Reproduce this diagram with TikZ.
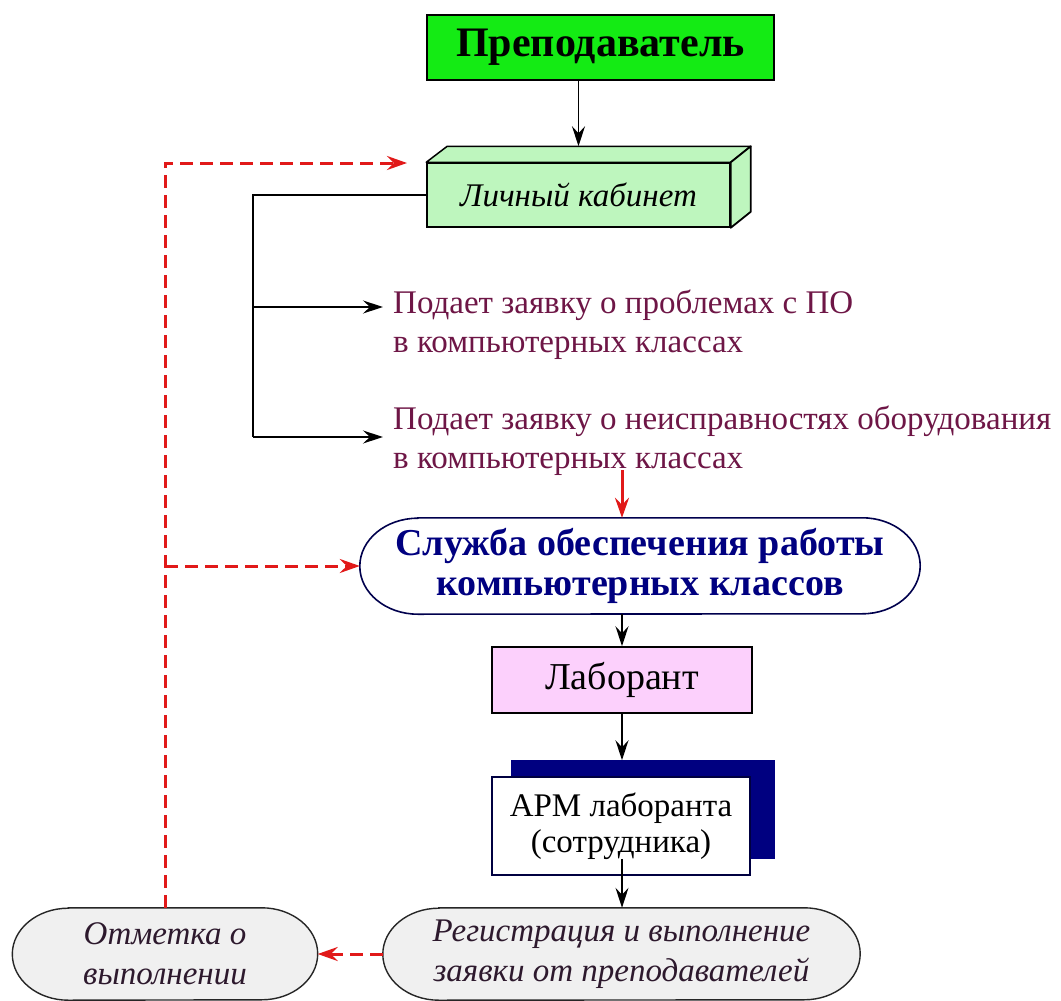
\documentclass[tikz,border=0pt]{standalone}
\usepackage{fontspec}
\setmainfont{Liberation Serif}
\usetikzlibrary{arrows.meta,calc,backgrounds}
\definecolor{prepgreen}{RGB}{20,235,20}
\definecolor{lkgreen}{RGB}{190,246,190}
\definecolor{labpink}{RGB}{252,208,252}
\definecolor{ovalgray}{RGB}{240,240,240}
\definecolor{navyblue}{RGB}{0,0,128}
\definecolor{lblmaroon}{RGB}{110,22,70}
\definecolor{dashred}{RGB}{225,25,25}
\definecolor{ovaltext}{RGB}{45,25,45}
\tikzset{
  every node/.style={inner sep=0pt, align=center},
  box/.style={draw=black, line width=1.5pt, rectangle},
  conn/.style={draw=black, line width=1.5pt},
  arr/.style={conn, -{Stealth[length=20pt,width=13pt,inset=7pt]}},
  redtip/.style={-{Stealth[length=20pt,width=14pt,inset=7pt]}},
  redarr/.style={draw=dashred, line width=3pt, redtip},
  reddash/.style={draw=dashred, line width=3pt, dash pattern=on 13pt off 7pt, redtip},
  ovalline/.style={draw=black!85, line width=1.4pt, fill=ovalgray},
  slline/.style={draw=navyblue!60!black, line width=1.6pt, fill=white},
  lbl/.style={text=lblmaroon, font=\fontsize{33}{39}\selectfont, align=left, anchor=west},
  ovaltxt/.style={text=ovaltext, font=\fontsize{33}{40}\selectfont\itshape},
}
\newcommand\ovalshape[4]{%
  \path[#4] ($(#1.north west)+(#2,0)$) -- ($(#1.north east)+(-#2,0)$)
    arc[start angle=90,end angle=-90,x radius=#2pt,y radius=#3pt]
    -- ($(#1.south west)+(#2,0)$)
    arc[start angle=270,end angle=90,x radius=#2pt,y radius=#3pt] -- cycle;}
\begin{document}
\begin{tikzpicture}[x=1pt,y=-1pt]
\path[use as bounding box] (0,0) rectangle (1061,1001);

% nodes
\node[box, fill=prepgreen, minimum width=347pt, minimum height=65pt,
      font=\fontsize{42}{48}\selectfont\bfseries] (prep) at (600.5,47.5) {Преподаватель};
\node[box, fill=lkgreen, minimum width=303pt, minimum height=64pt,
      font=\fontsize{33}{40}\selectfont\itshape] (lk) at (578.5,195) {Личный кабинет};
\node[lbl] (t1) at (393,325) {Подает заявку о проблемах с ПО\\в компьютерных классах};
\node[lbl] (t2) at (393,441) {Подает заявку о неисправностях оборудования\\в компьютерных классах};
\node[minimum width=560pt, minimum height=96pt, text=navyblue,
      font=\fontsize{38}{40}\selectfont\bfseries] (sl) at (640,566)
      {Служба обеспечения работы\\компьютерных классов};
\node[box, fill=labpink, minimum width=260pt, minimum height=66pt,
      font=\fontsize{38}{44}\selectfont] (lab) at (622,680) {Лаборант};
\node[box, draw=navyblue!50!black, fill=white, minimum width=258pt, minimum height=98pt,
      font=\fontsize{33}{36}\selectfont] (arm) at (621,826) {АРМ лаборанта\\(сотрудника)};
\node[ovaltxt, minimum width=477pt, minimum height=92pt] (reg) at (621.5,954)
      {Регистрация и выполнение\\заявки от преподавателей};
\node[ovaltxt, minimum width=305pt, minimum height=92pt] (ott) at (165,954)
      {Отметка о\\выполнении};

% background shapes
\begin{scope}[on background layer]
  \fill[white] (0,0) rectangle (1061,1001);
  \ovalshape{sl}{58}{48}{slline}
  \ovalshape{reg}{56}{46}{ovalline}
  \ovalshape{ott}{56}{46}{ovalline}
  \fill[navyblue] ($(arm.north west)+(20,-16)$) rectangle ($(arm.south east)+(24,-17)$);
\end{scope}

% 3D faces of the cabinet box
\draw[fill=lkgreen, line width=1.5pt, line join=round]
  (lk.north west) -- ($(lk.north west)+(21,-16)$) -- ($(lk.north east)+(20,-16)$) -- (lk.north east) -- cycle;
\draw[fill=lkgreen, line width=1.8pt, line join=round]
  (lk.north east) -- ($(lk.north east)+(20,-16)$) -- ($(lk.south east)+(20,-16)$) -- (lk.south east) -- cycle;
\coordinate (lktop) at ($(lk.north)+(0,-16)$);

% coordinates
\coordinate (rcorner) at (165,163);
\coordinate (rtip) at (407,163);
\coordinate (bcorner) at (253,195);
\coordinate (b1) at (253,307);
\coordinate (b2) at (253,437);
\coordinate (tip1) at (383,307);
\coordinate (tip2) at (383,437);
\coordinate (rs) at (622,470);
\coordinate (armshadowtop) at ($(arm.north)+(1,-16)$);
\coordinate (armout) at ($(arm.south)+(1,-17)$);

% connectors
\draw[arr] (prep.south -| lk.north) -- (lktop);
\draw[conn] (lk.west) -- (bcorner) -- (b2);
\draw[arr] (b1) -- (tip1);
\draw[arr] (b2) -- (tip2);
\draw[redarr] (rs) -- (rs |- sl.north);
\draw[arr] (sl.south -| lab.north) -- (lab.north);
\draw[arr] (lab.south) -- (armshadowtop);
\draw[arr] (armout) -- (armout |- reg.north);
\draw[reddash] (ott.north) -- (rcorner) -- (rtip);
\draw[reddash] (rcorner |- sl.west) -- (sl.west);
\draw[reddash] (reg.west) -- (ott.east);
\end{tikzpicture}
\end{document}
